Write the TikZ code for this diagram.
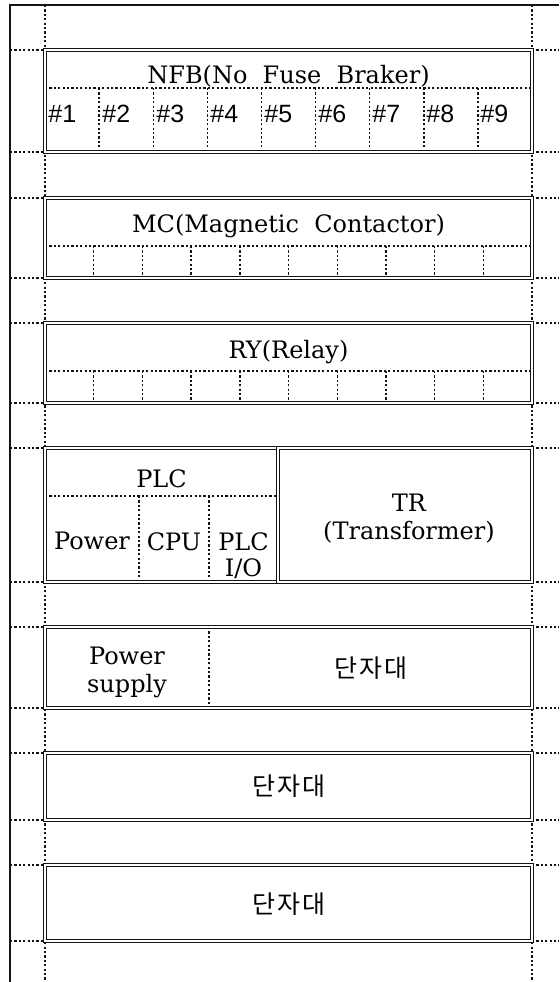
\documentclass[tikz,border=0pt]{standalone}
\usepackage{fontspec}
\setmainfont{DejaVu Serif}
\newfontfamily\numfont{Liberation Sans}
\newfontfamily\krfont[LetterSpace=8]{Noto Sans CJK KR}
\usepackage{xcolor}
\usepackage{tikz}
\definecolor{figline}{RGB}{20,20,20}
\tikzset{
  rim/.style   ={draw=figline, line width=1.3pt},
  guide/.style ={draw=figline, line width=0.7pt, dash pattern=on 1.1pt off 1.1pt},
  panel/.style ={draw=figline, line width=0.7pt, double=white, double distance=0.75pt},
  lab/.style   ={font=\fontsize{12}{14}\selectfont, inner sep=1pt},
  labn/.style  ={font=\numfont\fontsize{12.5}{14}\selectfont, inner sep=1pt},
  labk/.style  ={font=\krfont\fontsize{12.5}{14}\selectfont, inner sep=1pt},
}

\begin{document}
\begin{tikzpicture}[x=5pt,y=-5pt]
  \useasboundingbox (0,0) rectangle (55.9,98.2);
  % cabinet frame and guide lines
  \draw[rim] (55.9,0.5) -- (1.0,0.5) -- (1.0,98.2);
  \draw[guide] (4.5,0.5) -- (4.5,98.2);
  \draw[guide] (53.2,0.5) -- (53.2,98.2);
  \draw[guide] (1.0,5.0) -- (4.5,5.0);   \draw[guide] (53.2,5.0) -- (55.9,5.0);
  \draw[guide] (1.0,15.2) -- (4.5,15.2); \draw[guide] (53.2,15.2) -- (55.9,15.2);
  \draw[guide] (1.0,19.8) -- (4.5,19.8); \draw[guide] (53.2,19.8) -- (55.9,19.8);
  \draw[guide] (1.0,27.8) -- (4.5,27.8); \draw[guide] (53.2,27.8) -- (55.9,27.8);
  \draw[guide] (1.0,32.3) -- (4.5,32.3); \draw[guide] (53.2,32.3) -- (55.9,32.3);
  \draw[guide] (1.0,40.3) -- (4.5,40.3); \draw[guide] (53.2,40.3) -- (55.9,40.3);
  \draw[guide] (1.0,44.8) -- (4.5,44.8); \draw[guide] (53.2,44.8) -- (55.9,44.8);
  \draw[guide] (1.0,58.2) -- (4.5,58.2); \draw[guide] (53.2,58.2) -- (55.9,58.2);
  \draw[guide] (1.0,62.7) -- (4.5,62.7); \draw[guide] (53.2,62.7) -- (55.9,62.7);
  \draw[guide] (1.0,70.8) -- (4.5,70.8); \draw[guide] (53.2,70.8) -- (55.9,70.8);
  \draw[guide] (1.0,75.3) -- (4.5,75.3); \draw[guide] (53.2,75.3) -- (55.9,75.3);
  \draw[guide] (1.0,82.0) -- (4.5,82.0); \draw[guide] (53.2,82.0) -- (55.9,82.0);
  \draw[guide] (1.0,86.5) -- (4.5,86.5); \draw[guide] (53.2,86.5) -- (55.9,86.5);
  \draw[guide] (1.0,94.1) -- (4.5,94.1); \draw[guide] (53.2,94.1) -- (55.9,94.1);

  % NFB
  \draw[guide] (4.5,8.8) -- (53.2,8.8);
  \draw[guide] (9.91,8.8) -- (9.91,15.2);
  \draw[guide] (15.32,8.8) -- (15.32,15.2);
  \draw[guide] (20.73,8.8) -- (20.73,15.2);
  \draw[guide] (26.14,8.8) -- (26.14,15.2);
  \draw[guide] (31.56,8.8) -- (31.56,15.2);
  \draw[guide] (36.97,8.8) -- (36.97,15.2);
  \draw[guide] (42.38,8.8) -- (42.38,15.2);
  \draw[guide] (47.79,8.8) -- (47.79,15.2);
  \draw[panel] (4.5,5.0) rectangle (53.2,15.2);
  \node[lab] (nfb) at (28.85,7.6) {NFB(No\ \ Fuse\ \ Braker)};
  \node[labn,anchor=west] (c1) at (4.6,11.4) {\#1};
  \node[labn,anchor=west] (c2) at (10.0,11.4) {\#2};
  \node[labn,anchor=west] (c3) at (15.4,11.4) {\#3};
  \node[labn,anchor=west] (c4) at (20.8,11.4) {\#4};
  \node[labn,anchor=west] (c5) at (26.2,11.4) {\#5};
  \node[labn,anchor=west] (c6) at (31.6,11.4) {\#6};
  \node[labn,anchor=west] (c7) at (37.0,11.4) {\#7};
  \node[labn,anchor=west] (c8) at (42.4,11.4) {\#8};
  \node[labn,anchor=west] (c9) at (47.8,11.4) {\#9};

  % MC
  \draw[guide] (4.5,24.6) -- (53.2,24.6);
  \draw[guide] (9.37,24.6) -- (9.37,27.8);
  \draw[guide] (14.24,24.6) -- (14.24,27.8);
  \draw[guide] (19.11,24.6) -- (19.11,27.8);
  \draw[guide] (23.98,24.6) -- (23.98,27.8);
  \draw[guide] (28.85,24.6) -- (28.85,27.8);
  \draw[guide] (33.72,24.6) -- (33.72,27.8);
  \draw[guide] (38.59,24.6) -- (38.59,27.8);
  \draw[guide] (43.46,24.6) -- (43.46,27.8);
  \draw[guide] (48.33,24.6) -- (48.33,27.8);
  \draw[panel] (4.5,19.8) rectangle (53.2,27.8);
  \node[lab] (mc) at (28.85,22.6) {MC(Magnetic\ \ Contactor)};

  % RY
  \draw[guide] (4.5,37.1) -- (53.2,37.1);
  \draw[guide] (9.37,37.1) -- (9.37,40.3);
  \draw[guide] (14.24,37.1) -- (14.24,40.3);
  \draw[guide] (19.11,37.1) -- (19.11,40.3);
  \draw[guide] (23.98,37.1) -- (23.98,40.3);
  \draw[guide] (28.85,37.1) -- (28.85,40.3);
  \draw[guide] (33.72,37.1) -- (33.72,40.3);
  \draw[guide] (38.59,37.1) -- (38.59,40.3);
  \draw[guide] (43.46,37.1) -- (43.46,40.3);
  \draw[guide] (48.33,37.1) -- (48.33,40.3);
  \draw[panel] (4.5,32.3) rectangle (53.2,40.3);
  \node[lab] (ry) at (28.85,35.2) {RY(Relay)};

  % PLC and TR
  \draw[guide] (4.5,49.6) -- (27.8,49.6);
  \draw[guide] (13.9,49.6) -- (13.9,58.2);
  \draw[guide] (20.9,49.6) -- (20.9,58.2);
  \draw[panel] (4.5,44.8) rectangle (27.8,58.2);
  \draw[panel] (27.8,44.8) rectangle (53.2,58.2);
  \node[lab] (plc) at (16.15,47.9) {PLC};
  \node[lab,anchor=north] (pwr) at (9.2,53.0) {Power};
  \node[lab,anchor=north] (cpu) at (17.4,53.0) {CPU};
  \node[lab,anchor=north,align=center] (plcio) at (24.35,53.0) {PLC\\[-1pt]I/O};
  \node[lab,align=center] (tr) at (40.9,51.9) {TR\\(Transformer)};

  % power supply and terminal blocks
  \draw[guide] (20.9,62.7) -- (20.9,70.8);
  \draw[panel] (4.5,62.7) rectangle (53.2,70.8);
  \node[lab,align=center] (psu) at (12.7,67.2) {Power\\supply};
  \node[labk] (tb1) at (37.05,66.8) {단자대};
  \draw[panel] (4.5,75.3) rectangle (53.2,82.0);
  \node[labk] (tb2) at (28.85,78.6) {단자대};
  \draw[panel] (4.5,86.5) rectangle (53.2,94.1);
  \node[labk] (tb3) at (28.85,90.4) {단자대};
\end{tikzpicture}
\end{document}
